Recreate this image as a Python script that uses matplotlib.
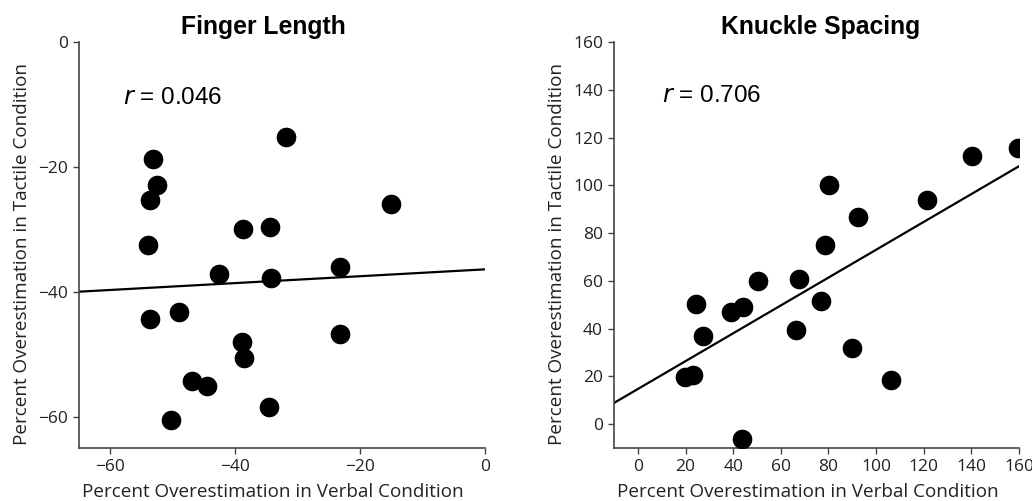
import numpy as np
import matplotlib.pyplot as plt

# Finger length: percent overestimation (verbal, tactile)
finger_verbal = [-31.9, -53.2, -52.6, -53.6, -15.1, -38.8, -34.4, -53.9, -42.6, -34.3,
                 -23.2, -53.6, -49.0, -23.2, -38.9, -38.6, -46.9, -44.5, -34.6, -50.2]
finger_tactile = [-15.2, -18.7, -22.9, -25.3, -25.9, -29.9, -29.6, -32.5, -37.2, -37.8,
                  -36.0, -44.3, -43.2, -46.7, -48.0, -50.6, -54.2, -55.0, -58.5, -60.5]
finger_fit = (0.055, -36.4)  # slope, intercept
finger_r = "0.046"

# Knuckle spacing
knuckle_verbal = [80.3, 92.4, 121.5, 140.3, 159.6, 78.4, 50.5, 67.5, 24.3, 39.3,
                  44.2, 27.5, 76.7, 66.2, 90.1, 19.7, 23.3, 106.2, 43.6]
knuckle_tactile = [100.0, 86.7, 93.9, 112.2, 115.7, 75.1, 60.1, 60.7, 50.1, 47.1,
                   49.1, 37.1, 51.7, 39.3, 31.8, 19.9, 20.4, 18.6, -6.2]
knuckle_fit = (0.583, 14.7)
knuckle_r = "0.706"

label_font = "Open Sans"
title_font = "Liberation Sans"

fig = plt.figure(figsize=(10.32, 5.01), dpi=100)
ax1 = fig.add_axes([0.0766, 0.1058, 0.3934, 0.8104])
ax2 = fig.add_axes([0.595, 0.1058, 0.3924, 0.8104])

panels = [
    (ax1, finger_verbal, finger_tactile, finger_fit, finger_r, "Finger Length",
     (-65, 0), (-65, 0), [-60, -40, -20, 0], [-60, -40, -20, 0], (-57.9, -9.0), 0.453),
    (ax2, knuckle_verbal, knuckle_tactile, knuckle_fit, knuckle_r, "Knuckle Spacing",
     (-10, 160), (-10, 160), np.arange(0, 161, 20), np.arange(0, 161, 20), (10.2, 137.3), 0.51),
]

for ax, xv, yv, fit, r, title, xlim, ylim, xt, yt, rpos, tx in panels:
    ax.scatter(xv, yv, s=200, color="black", zorder=3, linewidths=0)
    xs = np.array(xlim, dtype=float)
    ax.plot(xs, fit[0] * xs + fit[1], color="black", lw=1.6, zorder=2)
    ax.set_xlim(xlim)
    ax.set_ylim(ylim)
    ax.set_xticks(xt)
    ax.set_yticks(yt)
    ax.set_xticklabels([str(v).replace("-", "\u2212") for v in xt], family=label_font, fontsize=12.5)
    ax.set_yticklabels([str(v).replace("-", "\u2212") for v in yt], family=label_font, fontsize=12.5)
    for side in ["top", "right"]:
        ax.spines[side].set_visible(False)
    for side in ["left", "bottom"]:
        ax.spines[side].set_color("#444444")
        ax.spines[side].set_linewidth(1.2)
    ax.tick_params(length=4, width=1, color="#444444", labelcolor="#222222", pad=4)
    ax.set_xlabel("Percent Overestimation in Verbal Condition", family=label_font,
                  fontsize=13.6, color="#222222", labelpad=5)
    ax.set_ylabel("Percent Overestimation in Tactile Condition", family=label_font,
                  fontsize=13.6, color="#222222", labelpad=5)
    ax.xaxis.set_label_coords(0.478, -0.085)
    ax.yaxis.label.set_y(0.478)
    ax.set_title(title, family=title_font, fontweight="bold", fontsize=17.8, pad=6, x=tx)
    ax.text(rpos[0], rpos[1], "$\\it{r}$ = " + r, family=title_font, fontsize=17.5,
            va="center", ha="left")

fig.savefig("out.png", dpi=100)
